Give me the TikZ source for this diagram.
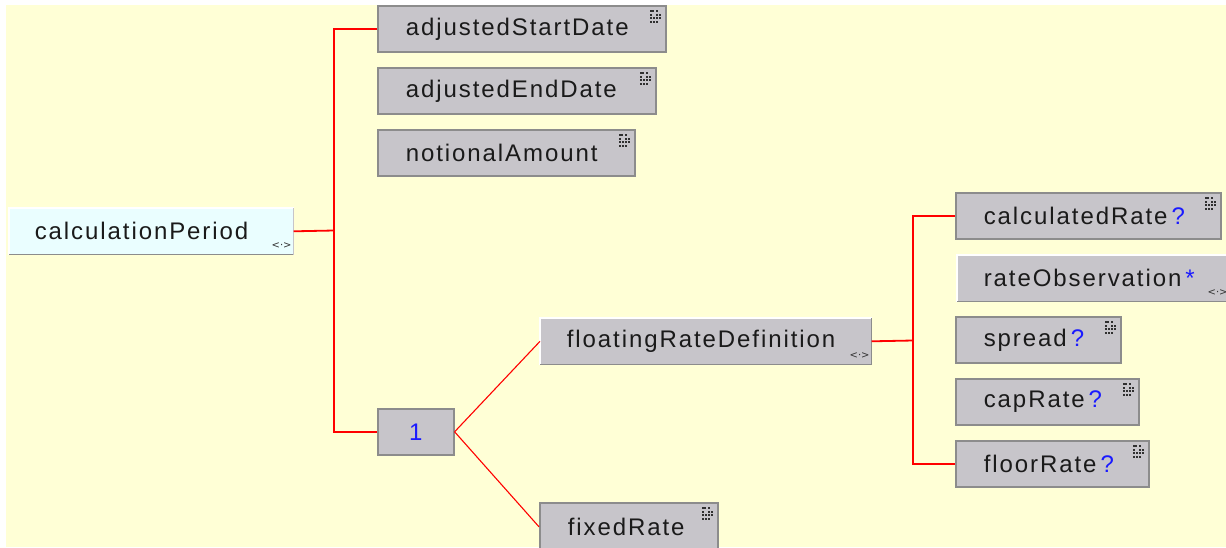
\documentclass[tikz,border=0pt]{standalone}
\usepackage{fontspec}
\setmainfont{Liberation Sans}[LetterSpace=8]
\newfontfamily\iconfont{DejaVu Sans}
\definecolor{bgyellow}{HTML}{FFFFD6}
\definecolor{boxfill}{HTML}{C7C5CA}
\definecolor{boxedge}{HTML}{8C8C8C}
\definecolor{rootfill}{HTML}{EAFEFF}
\definecolor{qblue}{HTML}{1A1AFF}
\definecolor{icondark}{HTML}{303030}
\definecolor{txt}{HTML}{1A1A1A}
\tikzset{
  bx/.style={draw=boxedge, line width=1.6pt, fill=boxfill, anchor=north west,
    minimum height=46pt, inner ysep=0pt, align=left, text=txt,
    font=\fontsize{24}{28}\selectfont,
    execute at begin node={\hyphenpenalty=10000\exhyphenpenalty=10000}},
  cx/.style={bx, draw=none},
  redline/.style={draw=red, line width=1.8pt},
  diag/.style={draw=red, line width=1.1pt},
  cicon/.style={font=\iconfont\fontsize{10}{10}\selectfont, text=icondark, inner sep=0pt},
  gridicon/.pic={\foreach \a/\b in {0/0,2.5/0,6/0, 0/3.5,6/3.5,9/3.5, 0/7,3/7,6/7,9/7, 3/10.5,6/10.5, 0/10.5}{\fill[icondark] (\a,\b) rectangle ++(2,2);}}
}
\begin{document}
\begin{tikzpicture}[x=1pt,y=-1pt]
\useasboundingbox (0,0) rectangle (1226,547);
\fill[bgyellow] (6,5) rectangle (1226,547);
% nodes
\node[cx, fill=rootfill, text width=233pt, inner xsep=25pt, minimum height=45pt] (cp) at (9,208) {calculationPeriod};
\node[bx, text width=232pt, inner xsep=28pt] (asd) at (377,5) {adjustedStartDate};
\node[bx, text width=222pt, inner xsep=28pt] (aed) at (377,67) {adjustedEndDate};
\node[bx, text width=201pt, inner xsep=28pt] (na) at (377,129) {notionalAmount};
\node[bx, text width=20pt, inner xsep=28pt, align=center] (one) at (377,408) {\textcolor{qblue}{1}};
\node[cx, text width=278pt, inner xsep=26pt, minimum height=45pt] (frd) at (540,318) {floatingRateDefinition};
\node[bx, text width=122pt, inner xsep=28pt, minimum height=48pt] (fr) at (539,502) {fixedRate};
\node[bx, text width=209pt, inner xsep=28pt] (cr) at (955,192) {calculatedRate\,\textcolor{qblue}{?}};
\node[cx, text width=219pt, inner xsep=26pt, minimum height=45pt] (ro) at (957,255) {rateObservation\,\textcolor{qblue}{*}};
\node[bx, text width=109pt, inner xsep=28pt] (sp) at (955,316) {spread\,\textcolor{qblue}{?}};
\node[bx, text width=127pt, inner xsep=28pt] (cap) at (955,378) {capRate\,\textcolor{qblue}{?}};
\node[bx, text width=137pt, inner xsep=28pt] (fl) at (955,440) {floorRate\,\textcolor{qblue}{?}};
% raised edges of the complex-type boxes
\draw[line width=1.6pt, white] (cp.south west) |- (cp.north east);
\draw[line width=1.6pt, boxedge] (cp.south west) -- (cp.south east);
\draw[line width=1pt, boxfill] (cp.south east) -- (cp.north east);
\foreach \n in {frd,ro}{
  \draw[line width=1.6pt, white] (\n.south west) |- (\n.north east);
  \draw[line width=1.6pt, boxedge] (\n.south west) -| (\n.north east);
}
% icons
\foreach \n in {asd,aed,na,fr,cr,sp,cap,fl}{
  \pic at ([xshift=-17pt,yshift=-5pt]\n.north east) {gridicon};
}
\foreach \n in {cp,frd,ro}{
  \node[cicon] at ([xshift=-12pt,yshift=9pt]\n.south east) {<·>};
}
% connectors
\coordinate (j1) at (334,230.5);
\coordinate (j2) at (913,340.5);
\draw[redline] (cp.east) -- (j1);
\draw[redline] (asd.west) -| (j1);
\draw[redline] (one.west) -| (j1);
\draw[diag] (one.east) -- (frd.west);
\draw[diag] (one.east) -- (fr.west);
\draw[redline] (frd.east) -- (j2);
\draw[redline] (cr.west) -| (j2);
\draw[redline] (fl.west) -| (j2);
\end{tikzpicture}
\end{document}
